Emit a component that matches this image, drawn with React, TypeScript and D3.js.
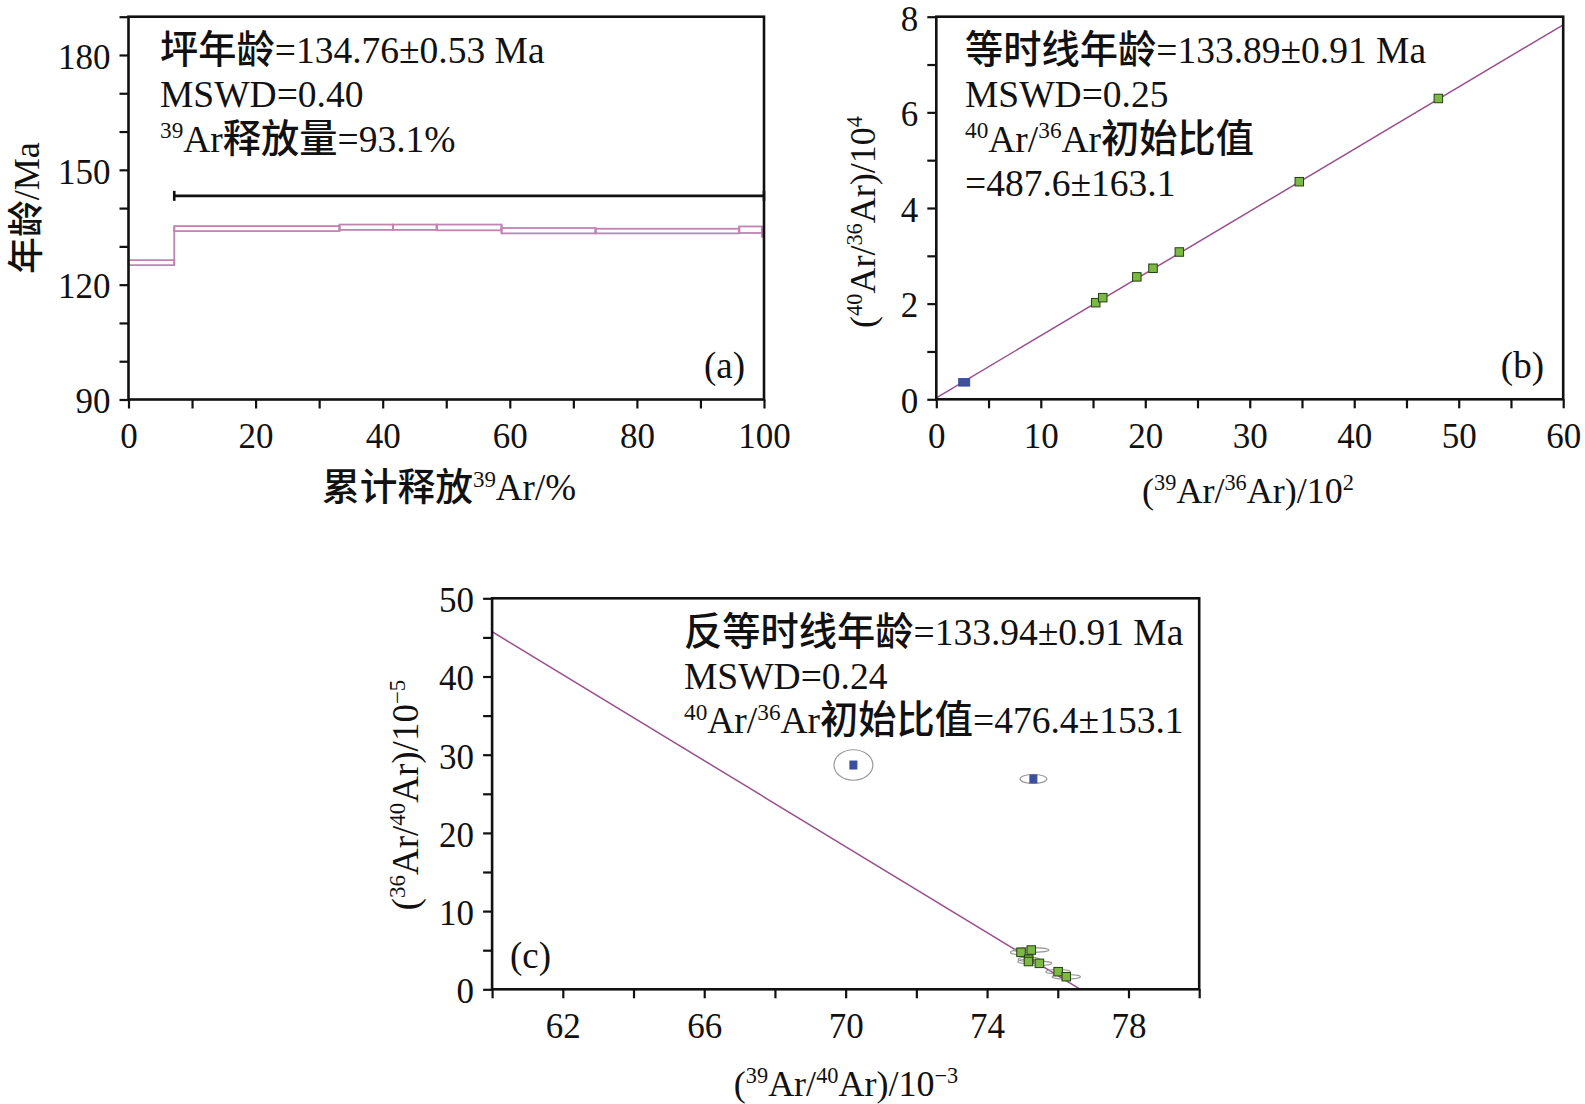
import * as d3 from "d3"
import React, { useEffect, useRef } from "react"

const W = 1585
const H = 1104
const SERIF = "'Liberation Serif', 'Times New Roman', serif"
const CJK = "'Noto Sans CJK SC', sans-serif"

// (a) age spectrum: cumulative 39Ar release (%) and step ages (Ma)
const stepFrom = [0, 7.2, 33.2, 41.6, 48.5, 58.7, 73.5, 96.1, 99.7]
const stepTo = [7.2, 33.2, 41.6, 48.5, 58.7, 73.5, 96.1, 99.7, 100]
const stepAge = [125.75, 134.65, 135.0, 135.0, 134.95, 134.1, 134.0, 134.35, 133.5]
const stepErr = [0.65, 0.65, 0.7, 0.7, 0.75, 0.7, 0.6, 0.85, 1.0]
const plateauFrom = 7.2
const plateauTo = 100
const plateauBarAge = 143.2

// (b) normal isochron: 39Ar/36Ar (x10^2) vs 40Ar/36Ar (x10^4)
const isoX = [2.67, 15.26, 15.93, 19.19, 20.74, 23.26, 34.74, 48.05]
const isoY = [0.355, 2.02, 2.125, 2.56, 2.74, 3.08, 4.55, 6.29]
const isoUsed = [false, true, true, true, true, true, true, true]
const isoLineX = [0, 60]
const isoLineY = [0.03, 7.83]

// (c) inverse isochron: 39Ar/40Ar (x10^-3) vs 36Ar/40Ar (x10^-5)
const invX = [70.22, 75.31, 74.96, 75.25, 75.18, 75.17, 75.48, 76.01, 76.24]
const invY = [28.68, 26.9, 4.73, 5.02, 3.84, 3.55, 3.32, 2.25, 1.61]
const invErrX = [0.55, 0.38, 0.3, 0.5, 0.3, 0.3, 0.35, 0.35, 0.4]
const invErrY = [1.95, 0.57, 0.3, 0.3, 0.28, 0.28, 0.28, 0.28, 0.28]
const invUsed = [false, false, true, true, true, true, true, true, true]
const invLineX = [60, 76.64]
const invLineY = [45.73, 0]

// text pieces: [text, "sup" | ""]
const textA = [
    [["坪年龄=134.76±0.53 Ma", ""]],
    [["MSWD=0.40", ""]],
    [["39", "sup"], ["Ar释放量=93.1%", ""]],
]
const textB = [
    [["等时线年龄=133.89±0.91 Ma", ""]],
    [["MSWD=0.25", ""]],
    [["40", "sup"], ["Ar/", ""], ["36", "sup"], ["Ar初始比值", ""]],
    [["=487.6±163.1", ""]],
]
const textC = [
    [["反等时线年龄=133.94±0.91 Ma", ""]],
    [["MSWD=0.24", ""]],
    [["40", "sup"], ["Ar/", ""], ["36", "sup"], ["Ar初始比值=476.4±153.1", ""]],
]

const richText = (g, x, y, parts, size, anchor = "start", rotate = false) => {
    const t = g.append("text")
        .attr("font-family", SERIF)
        .attr("font-size", size)
        .attr("fill", "#111")
        .attr("text-anchor", anchor)
    if (rotate) t.attr("transform", `translate(${x},${y}) rotate(-90)`)
    else t.attr("x", x).attr("y", y)
    let shifted = false
    parts.forEach(([s, kind]) => {
        if (kind === "sup") {
            t.append("tspan").text(s)
                .attr("font-size", size * 0.62)
                .attr("dy", shifted ? 0 : -size * 0.36)
            shifted = true
            return
        }
        // split Chinese runs so they get the CJK face
        s.split(/([\u4e00-\u9fff]+)/).filter(p => p.length).forEach(p => {
            const sp = t.append("tspan").text(p)
            if (/[\u4e00-\u9fff]/.test(p)) {
                sp.attr("font-family", CJK).attr("font-size", size * 1.02).attr("font-weight", 500)
            }
            if (shifted) sp.attr("dy", size * 0.36)
            shifted = false
        })
    })
    return t
}

const frame = (svg, box, xDom, yDom, xTicks, xLab, yTicks, yLab) => {
    const x = d3.scaleLinear().domain(xDom).range([box.l, box.r])
    const y = d3.scaleLinear().domain(yDom).range([box.b, box.t])
    const gx = svg.append("g").attr("transform", `translate(0,${box.b})`)
        .call(d3.axisBottom(x).tickValues(xTicks).tickSize(9).tickPadding(15).tickSizeOuter(0)
            .tickFormat(d => xLab.includes(d) ? String(d) : ""))
    const gy = svg.append("g").attr("transform", `translate(${box.l},0)`)
        .call(d3.axisLeft(y).tickValues(yTicks).tickSize(9).tickPadding(9).tickSizeOuter(0)
            .tickFormat(d => yLab.includes(d) ? String(d) : ""))
    for (const g of [gx, gy]) {
        g.selectAll("line").attr("stroke", "#111").attr("stroke-width", 2.2)
        g.select(".domain").remove()
        g.selectAll("text").attr("font-family", SERIF).attr("font-size", 35).attr("fill", "#111")
    }
    gy.selectAll("text").attr("dy", "0.38em")
    return { x, y }
}

const border = (svg, box) => {
    svg.append("rect")
        .attr("x", box.l).attr("y", box.t)
        .attr("width", box.r - box.l).attr("height", box.b - box.t)
        .attr("fill", "none").attr("stroke", "#111").attr("stroke-width", 2.6)
}

const App = () => {
    const ref = useRef(null)

    useEffect(() => {
        const svg = d3.select(ref.current)
        svg.selectAll("*").remove()

        // ---------- (a) ----------
        const boxA = { l: 128.5, r: 764, t: 16.7, b: 399.5 }
        const a = frame(svg, boxA, [0, 100], [90, 190],
            d3.range(0, 101, 10), [0, 20, 40, 60, 80, 100],
            d3.range(90, 191, 10), [90, 120, 150, 180])
        const gSteps = svg.append("g").attr("fill", "none").attr("stroke", "#c084b2").attr("stroke-width", 1.8)
        stepFrom.forEach((s, i) => {
            gSteps.append("rect")
                .attr("x", a.x(s)).attr("y", a.y(stepAge[i] + stepErr[i]))
                .attr("width", a.x(stepTo[i]) - a.x(s))
                .attr("height", a.y(stepAge[i] - stepErr[i]) - a.y(stepAge[i] + stepErr[i]))
            if (i > 0) {
                const lo = Math.min(stepAge[i] - stepErr[i], stepAge[i - 1] - stepErr[i - 1])
                const hi = Math.max(stepAge[i] + stepErr[i], stepAge[i - 1] + stepErr[i - 1])
                gSteps.append("line").attr("x1", a.x(s)).attr("x2", a.x(s))
                    .attr("y1", a.y(lo)).attr("y2", a.y(hi))
            }
        })
        const py = a.y(plateauBarAge)
        const gBar = svg.append("g").attr("stroke", "#111").attr("stroke-width", 2.6)
        gBar.append("line").attr("x1", a.x(plateauFrom)).attr("x2", a.x(plateauTo)).attr("y1", py).attr("y2", py)
        for (const v of [plateauFrom, plateauTo]) {
            gBar.append("line").attr("x1", a.x(v)).attr("x2", a.x(v)).attr("y1", py - 5).attr("y2", py + 5)
        }
        border(svg, boxA)
        textA.forEach((parts, i) => richText(svg, 160, 63 + i * 44.3, parts, 37.5))
        richText(svg, 745, 378, [["(a)", ""]], 37, "end")
        richText(svg, 39, 208, [["年龄/Ma", ""]], 36, "middle", true)
        richText(svg, 449, 500, [["累计释放", ""], ["39", "sup"], ["Ar/%", ""]], 37, "middle")

        // ---------- (b) ----------
        const boxB = { l: 936.3, r: 1563.2, t: 16.7, b: 399.3 }
        const b = frame(svg, boxB, [0, 60], [0, 8],
            d3.range(0, 61, 5), [0, 10, 20, 30, 40, 50, 60],
            d3.range(0, 9, 1), [0, 2, 4, 6, 8])
        svg.append("line")
            .attr("x1", b.x(isoLineX[0])).attr("y1", b.y(isoLineY[0]))
            .attr("x2", b.x(isoLineX[1])).attr("y2", b.y(isoLineY[1]))
            .attr("stroke", "#9a4f8c").attr("stroke-width", 1.5)
        isoX.forEach((v, i) => {
            const w = isoUsed[i] ? 8.5 : 11
            const h = isoUsed[i] ? 8.5 : 7.5
            svg.append("rect")
                .attr("x", b.x(v) - w / 2).attr("y", b.y(isoY[i]) - h / 2)
                .attr("width", w).attr("height", h)
                .attr("fill", isoUsed[i] ? "#7cb844" : "#3d4f9f")
                .attr("stroke", isoUsed[i] ? "#24400f" : "#3d4f9f")
                .attr("stroke-width", 1)
        })
        border(svg, boxB)
        textB.forEach((parts, i) => richText(svg, 965, 63 + i * 44.3, parts, 37.5))
        richText(svg, 1544, 378, [["(b)", ""]], 37, "end")
        richText(svg, 875, 222, [["(", ""], ["40", "sup"], ["Ar/", ""], ["36", "sup"], ["Ar)/10", ""], ["4", "sup"]], 36, "middle", true)
        richText(svg, 1248, 503, [["(", ""], ["39", "sup"], ["Ar/", ""], ["36", "sup"], ["Ar)/10", ""], ["2", "sup"]], 36, "middle")

        // ---------- (c) ----------
        const boxC = { l: 492.1, r: 1199.2, t: 598.3, b: 989.3 }
        const c = frame(svg, boxC, [60, 80], [0, 50],
            d3.range(60, 81, 2), [62, 66, 70, 74, 78],
            d3.range(0, 51, 5), [0, 10, 20, 30, 40, 50])
        svg.append("defs").append("clipPath").attr("id", "clipC")
            .append("rect").attr("x", boxC.l).attr("y", boxC.t)
            .attr("width", boxC.r - boxC.l).attr("height", boxC.b - boxC.t)
        svg.append("line")
            .attr("clip-path", "url(#clipC)")
            .attr("x1", c.x(invLineX[0])).attr("y1", c.y(invLineY[0]))
            .attr("x2", c.x(invLineX[1])).attr("y2", c.y(invLineY[1]))
            .attr("stroke", "#9a4f8c").attr("stroke-width", 1.5)
        invX.forEach((v, i) => {
            svg.append("ellipse")
                .attr("cx", c.x(v)).attr("cy", c.y(invY[i]))
                .attr("rx", c.x(v + invErrX[i]) - c.x(v))
                .attr("ry", c.y(invY[i] - invErrY[i]) - c.y(invY[i]))
                .attr("fill", "none").attr("stroke", "#9a9a9a").attr("stroke-width", 1.2)
        })
        invX.forEach((v, i) => {
            const w = invUsed[i] ? 8.5 : 7
            const h = invUsed[i] ? 8.5 : 8
            svg.append("rect")
                .attr("x", c.x(v) - w / 2).attr("y", c.y(invY[i]) - h / 2)
                .attr("width", w).attr("height", h)
                .attr("fill", invUsed[i] ? "#7cb844" : "#3d4f9f")
                .attr("stroke", invUsed[i] ? "#24400f" : "#3d4f9f")
                .attr("stroke-width", 1)
        })
        border(svg, boxC)
        textC.forEach((parts, i) => richText(svg, 684, 645 + i * 44, parts, 37.5))
        richText(svg, 510, 968, [["(c)", ""]], 37)
        richText(svg, 418, 795, [["(", ""], ["36", "sup"], ["Ar/", ""], ["40", "sup"], ["Ar)/10", ""], ["−5", "sup"]], 37, "middle", true)
        richText(svg, 846, 1096, [["(", ""], ["39", "sup"], ["Ar/", ""], ["40", "sup"], ["Ar)/10", ""], ["−3", "sup"]], 36, "middle")
    }, [])

    return (
        <div style={{ position: "absolute", left: 0, top: 0, width: W, height: H, background: "#fff" }}>
            <svg ref={ref} width={W} height={H} style={{ display: "block" }}></svg>
        </div>
    )
}

export default App
